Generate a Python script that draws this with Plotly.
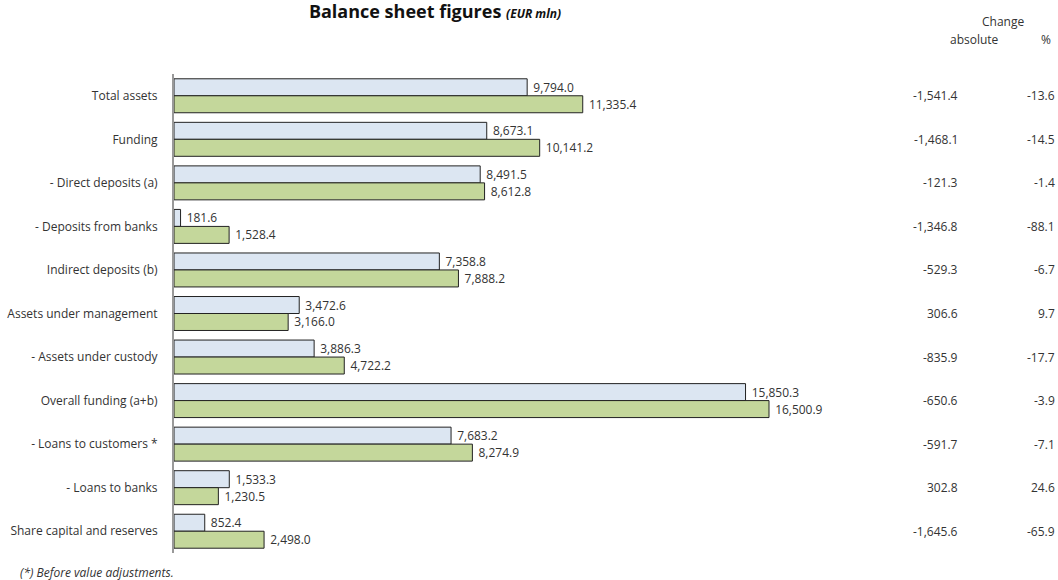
import plotly.graph_objects as go

categories = ["Total assets", "Funding", "- Direct deposits (a)", "- Deposits from banks",
              "Indirect deposits (b)", "Assets under management", "- Assets under custody",
              "Overall funding (a+b)", "- Loans to customers *", "- Loans to banks",
              "Share capital and reserves"]
current = [9794.0, 8673.1, 8491.5, 181.6, 7358.8, 3472.6, 3886.3, 15850.3, 7683.2, 1533.3, 852.4]
previous = [11335.4, 10141.2, 8612.8, 1528.4, 7888.2, 3166.0, 4722.2, 16500.9, 8274.9, 1230.5, 2498.0]
change_abs = ["-1,541.4", "-1,468.1", "-121.3", "-1,346.8", "-529.3", "306.6", "-835.9",
              "-650.6", "-591.7", "302.8", "-1,645.6"]
change_pct = ["-13.6", "-14.5", "-1.4", "-88.1", "-6.7", "9.7", "-17.7", "-3.9", "-7.1", "24.6", "-65.9"]

FONT = "'Open Sans', Lato, sans-serif"
TXT = "#333333"
W, H = 1058, 580
L, R, T, B = 174, 158, 74, 27
plot_w = W - L - R
px_per_unit = 595 / 16500.9
xmax = plot_w / px_per_unit

def px2paper(px):
    return (px - L) / plot_w

def py2paper(py):
    return (H - B - py) / (H - T - B)

fig = go.Figure()
fig.add_trace(go.Bar(y=categories, x=current, orientation="h", name="current",
                     marker=dict(color="#dce6f2", line=dict(color="#222222", width=1)),
                     texttemplate="\u00a0%{x:,.1f}", textposition="outside",
                     textfont=dict(family=FONT, size=12, color=TXT), cliponaxis=False))
fig.add_trace(go.Bar(y=categories, x=previous, orientation="h", name="previous",
                     marker=dict(color="#c4d79b", line=dict(color="#222222", width=1)),
                     texttemplate="\u00a0%{x:,.1f}", textposition="outside",
                     textfont=dict(family=FONT, size=12, color=TXT), cliponaxis=False))

annotations = []
for c, a, p in zip(categories, change_abs, change_pct):
    annotations.append(dict(x=px2paper(960), xref="paper", y=c, yref="y", text=a,
                            showarrow=False, xanchor="right", yanchor="middle",
                            font=dict(family=FONT, size=12, color=TXT)))
    annotations.append(dict(x=px2paper(1057), xref="paper", y=c, yref="y", text=p,
                            showarrow=False, xanchor="right", yanchor="middle",
                            font=dict(family=FONT, size=12, color=TXT)))

annotations += [
    dict(x=px2paper(1003), xref="paper", y=py2paper(22), yref="paper", text="Change",
         showarrow=False, xanchor="center", yanchor="middle",
         font=dict(family=FONT, size=12, color=TXT)),
    dict(x=px2paper(974), xref="paper", y=py2paper(40), yref="paper", text="absolute",
         showarrow=False, xanchor="center", yanchor="middle",
         font=dict(family=FONT, size=12, color=TXT)),
    dict(x=px2paper(1046), xref="paper", y=py2paper(40), yref="paper", text="%",
         showarrow=False, xanchor="center", yanchor="middle",
         font=dict(family=FONT, size=12, color=TXT)),
    dict(x=px2paper(18), xref="paper", y=py2paper(572), yref="paper",
         text="<i>(*) Before value adjustments.</i>", showarrow=False,
         xanchor="left", yanchor="middle", font=dict(family=FONT, size=12, color=TXT)),
]

fig.update_layout(
    width=W, height=H,
    margin=dict(l=L, r=R, t=T, b=B, autoexpand=False),
    paper_bgcolor="white", plot_bgcolor="white",
    barmode="group", bargap=0.22, bargroupgap=0,
    showlegend=False,
    title=dict(text="<b>Balance sheet figures</b> <b><i><span style='font-size:12px'>(EUR mln)</span></i></b>",
               x=435 / W, xref="container", xanchor="center",
               y=1 - 12 / H, yref="container", yanchor="middle",
               font=dict(family=FONT, size=18, color="#111111", weight=800)),
    xaxis=dict(range=[0, xmax], visible=False, fixedrange=True),
    yaxis=dict(autorange="reversed", showline=True, linecolor="#999999", linewidth=2,
               showgrid=False, zeroline=False, ticks="", ticklabelstandoff=12,
               tickfont=dict(family=FONT, size=12, color=TXT), automargin=False),
    annotations=annotations,
    font=dict(family=FONT),
)

fig.write_html("out.html")
